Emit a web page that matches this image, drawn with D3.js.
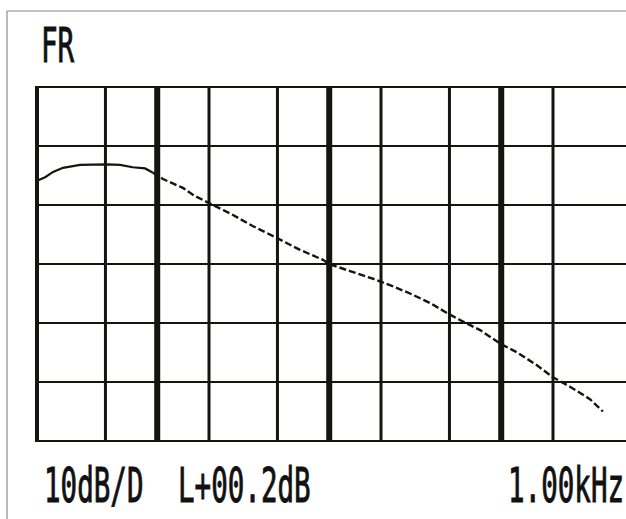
<!DOCTYPE html>
<html>
<head>
<meta charset="utf-8">
<script src="https://cdn.jsdelivr.net/npm/d3@7"></script>
<style>
  body { margin: 0; background: #fff; }
  svg { display: block; }
  .lcd { font-family: "DejaVu Sans Mono", "Liberation Mono", monospace; font-size: 48px; fill: #111; stroke: #111; stroke-width: 1; }
</style>
</head>
<body>
<div id="chart"></div>
<script>
// frequency response (Hz / dB, 0 dB = 1 kHz reference line)
const freqs = [20, 22.3, 24.8, 28.3, 35.6, 51, 60.8, 72, 85, 94, 108, 141, 166, 195, 276, 361, 497, 676, 920,
               1000, 1320, 1800, 2350, 2950, 3850, 4840, 5760, 7530, 10000, 12400, 16200, 20000, 25100, 32800, 39000];
const levels = [14.1, 14.7, 15.6, 16.3, 16.8, 16.9, 16.8, 16.4, 16.2, 15.5, 14.4, 12.9, 11.5, 10.5, 8.3, 6.4, 4.4, 2.4, 0.7,
                0, -1.2, -2.5, -3.8, -5.0, -6.6, -8.3, -9.5, -11.2, -13.6, -15.0, -17.2, -19.2, -20.8, -22.9, -25.0];

const freqGrid = [20, 50, 100, 200, 500, 1000, 2000, 5000, 10000, 20000];
const decades = [100, 1000, 10000];
const dbGrid = [-30, -20, -10, 0, 10, 20, 30];

const title = "FR";
const scaleLabel = "10dB/D";
const levelLabel = "L+00.2dB";
const freqLabel = "1.00kHz";

const W = 626, H = 519;
const ink = "#15150f";
const squeeze = 0.574;   // narrow LCD glyphs

let svg = d3.select("#chart").append("svg")
    .attr("width", W).attr("height", H);

let x = d3.scaleLog().domain([20, 20000]).range([37, 553]);
let y = d3.scaleLinear().domain([-30, 30]).range([441, 87]);

// outer frame of the scan
svg.append("line").attr("x1", 7).attr("x2", W).attr("y1", 11).attr("y2", 11)
    .attr("stroke", "#8a8a8a").attr("stroke-width", 1.2);
svg.append("line").attr("x1", 7).attr("x2", 7).attr("y1", 11).attr("y2", H)
    .attr("stroke", "#8a8a8a").attr("stroke-width", 1.2);

// horizontal grid
svg.append("g").selectAll("line")
    .data(dbGrid)
    .join("line")
    .attr("x1", x(20) - 2).attr("x2", W)
    .attr("y1", d => y(d)).attr("y2", d => y(d))
    .attr("stroke", ink).attr("stroke-width", 2);

// vertical grid, decades drawn heavier
svg.append("g").selectAll("line")
    .data(freqGrid)
    .join("line")
    .attr("x1", d => x(d)).attr("x2", d => x(d))
    .attr("y1", y(30)).attr("y2", y(-30))
    .attr("stroke", ink)
    .attr("stroke-width", d => decades.includes(d) ? 6 : (d == 20 ? 4 : 3));

// trace: solid over the hump, broken plotter steps on the slope
let pts = freqs.map((f, i) => [f, levels[i]]);
let line = d3.line().x(d => x(d[0])).y(d => y(d[1]));

svg.append("path")
    .datum(pts.filter(d => d[0] <= 94))
    .attr("d", line)
    .attr("fill", "none").attr("stroke", ink).attr("stroke-width", 2.2);

svg.append("path")
    .datum(pts.filter(d => d[0] >= 94))
    .attr("d", line)
    .attr("fill", "none").attr("stroke", ink).attr("stroke-width", 2.4)
    .attr("stroke-dasharray", "7,3");

// LCD style labels
function label(text, px, py) {
    svg.append("g")
        .attr("transform", `translate(${px},${py}) scale(${squeeze},1)`)
        .append("text").attr("class", "lcd")
        .text(text);
}

label(title, 41, 62);
label(scaleLabel, 44, 502);
label(levelLabel, 178, 502);
label(freqLabel, 508, 502);
</script>
</body>
</html>
